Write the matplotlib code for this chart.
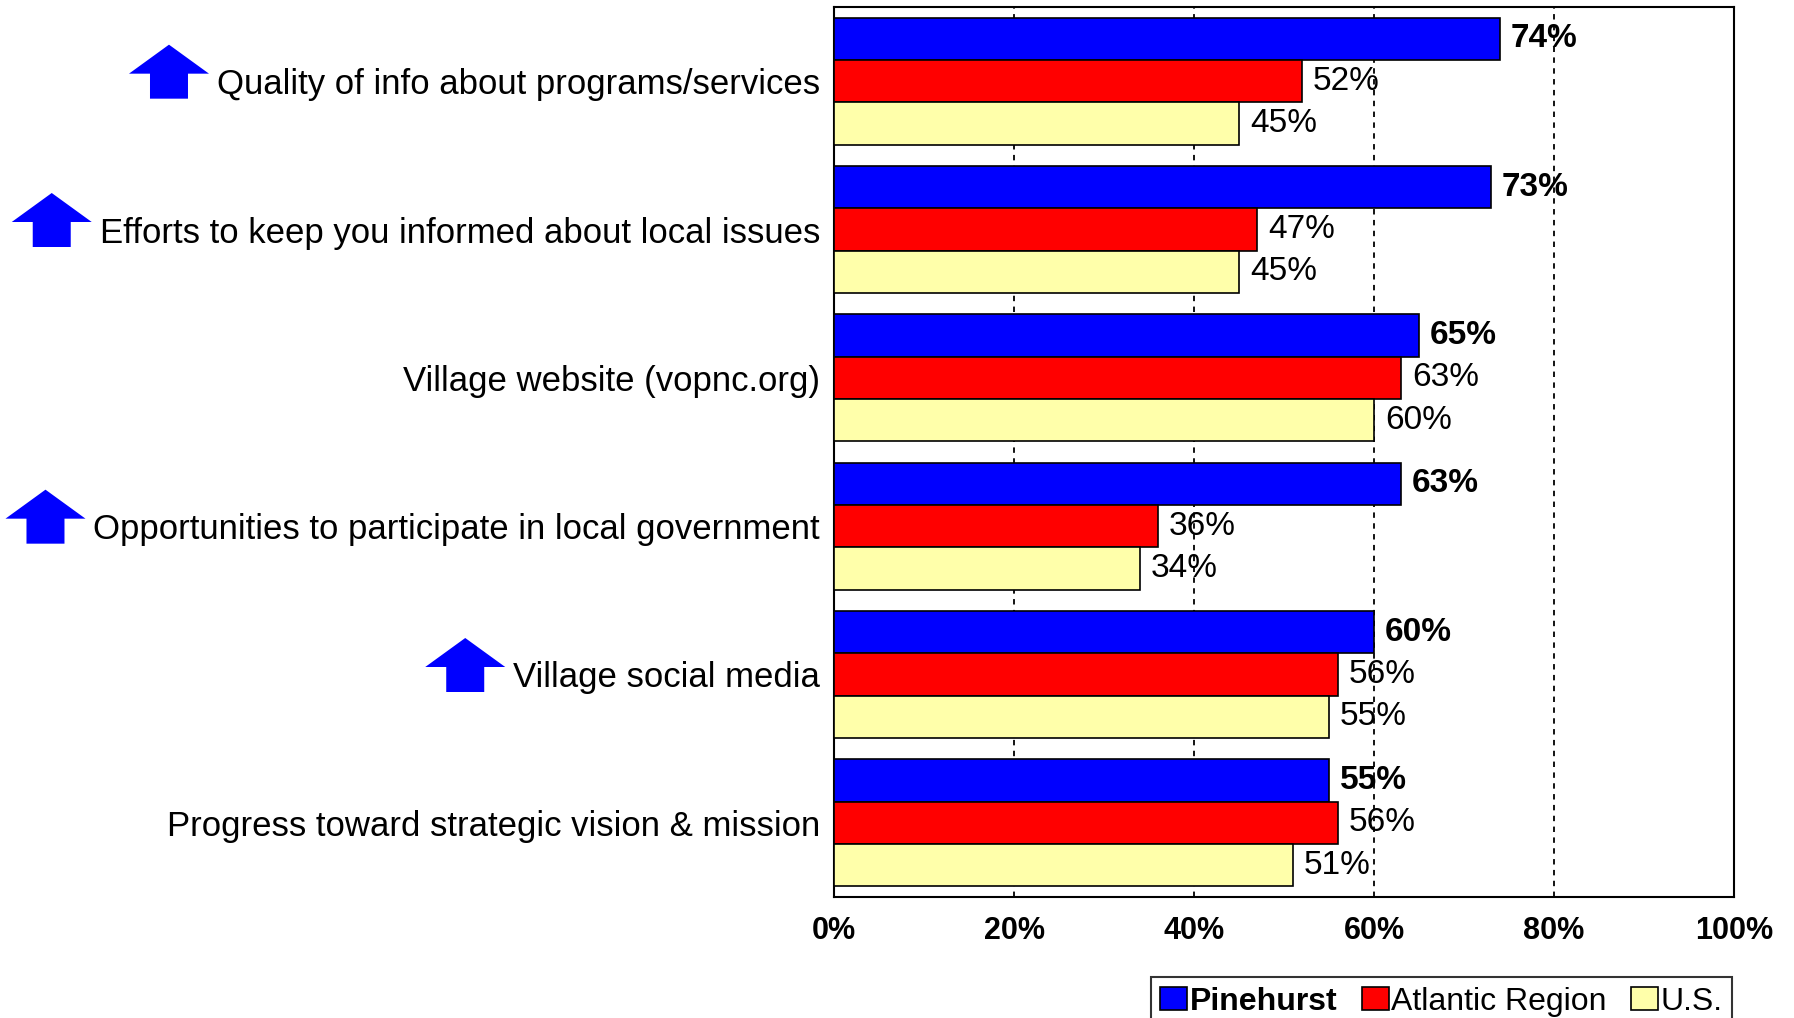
import matplotlib
matplotlib.use("Agg")
import matplotlib.pyplot as plt
from matplotlib.patches import Polygon
import numpy as np

plt.rcParams.update({"font.family": ["Liberation Sans", "DejaVu Sans"]})

# ---- survey results (percent rating excellent/good) ----
categories = [
    "Quality of info about programs/services",
    "Efforts to keep you informed about local issues",
    "Village website (vopnc.org)",
    "Opportunities to participate in local government",
    "Village social media",
    "Progress toward strategic vision & mission",
]
pinehurst = [74, 73, 65, 63, 60, 55]
atlantic = [52, 47, 63, 36, 56, 56]
us = [45, 45, 60, 34, 55, 51]
trend_up = [True, True, False, True, True, False]   # rows flagged with an up arrow

series = [("Pinehurst", pinehurst, "#0000FF"),
          ("Atlantic Region", atlantic, "#FF0000"),
          ("U.S.", us, "#FFFFAA")]

W, H = 1794, 1018
fig = plt.figure(figsize=(W / 100, H / 100), dpi=100)
ax = fig.add_axes([834 / W, 1 - 897 / H, 900 / W, 890 / H])

y = np.arange(len(categories))
bh = 0.285
for i, (name, vals, col) in enumerate(series):
    bars = ax.barh(y + (i - 1) * bh, vals, height=bh, color=col,
                   edgecolor="black", linewidth=1.2, label=name, zorder=3)
    ax.bar_label(bars, labels=[f"{v}%" for v in vals], padding=8,
                 fontsize=24, fontweight="bold" if i == 0 else "normal", zorder=4)

ax.set_xlim(0, 100)
ax.set_ylim(len(categories) - 0.5, -0.5)
ax.set_xticks([0, 20, 40, 60, 80, 100])
ax.set_xticklabels([f"{t}%" for t in range(0, 101, 20)],
                   fontsize=22, fontweight="bold")
ax.set_yticks(y)
ax.set_yticklabels(categories, fontsize=25)
ax.tick_params(axis="both", length=0)
ax.tick_params(axis="x", pad=14)
ax.tick_params(axis="y", pad=10)
for sp in ax.spines.values():
    sp.set_linewidth(1.5)
for gx in [20, 40, 60, 80]:
    ax.axvline(gx, color="black", linestyle=(0, (3, 3)), linewidth=1.3, zorder=1)

leg = ax.legend(loc="upper right", bbox_to_anchor=(1732 / W, 1 - 977 / H),
                bbox_transform=fig.transFigure, ncol=3, frameon=True,
                fancybox=False, edgecolor="black", fontsize=23,
                handlelength=0.85, handleheight=0.7, handletextpad=0.08,
                columnspacing=0.75, borderpad=0.3, borderaxespad=0)
leg.get_frame().set_linewidth(1.5)
leg.get_texts()[0].set_fontweight("bold")

# ---- up arrows to the left of the flagged labels ----
fig.canvas.draw()
rend = fig.canvas.get_renderer()
for lab, up in zip(ax.get_yticklabels(), trend_up):
    if not up:
        continue
    bb = lab.get_window_extent(rend)
    xr = bb.x0 - 8
    cx = xr - 40
    cy = (bb.y0 + bb.y1) / 2 + 13
    pts = [(cx, cy + 27), (cx + 40, cy - 2), (cx + 19, cy - 2), (cx + 19, cy - 27),
           (cx - 19, cy - 27), (cx - 19, cy - 2), (cx - 40, cy - 2)]
    fig.patches.append(Polygon([(px / W, py / H) for px, py in pts],
                               closed=True, facecolor="#0000FF", edgecolor="none",
                               transform=fig.transFigure, figure=fig))

fig.savefig("out.png", dpi=100, facecolor="white")
